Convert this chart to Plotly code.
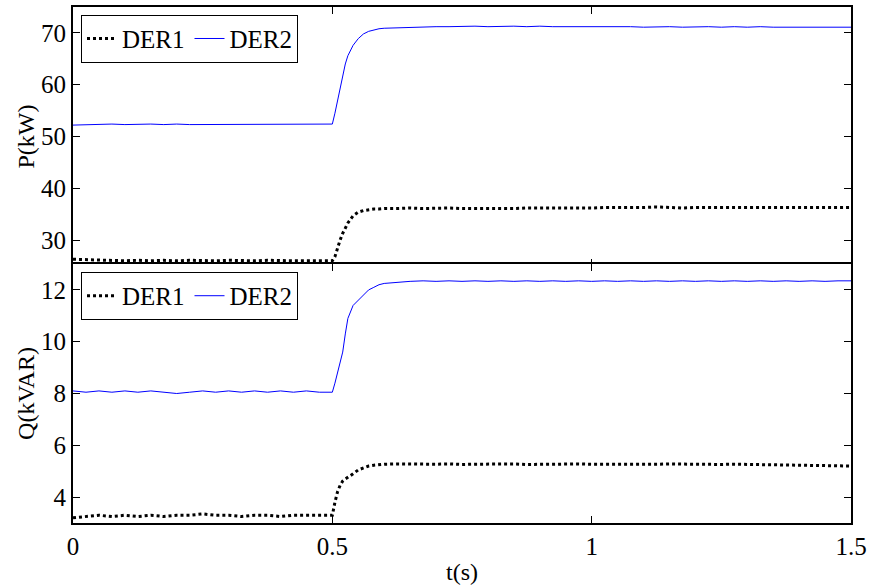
import plotly.graph_objects as go

# time samples (s)
t_pre = [0, 0.025, 0.05, 0.075, 0.1, 0.125, 0.15, 0.175, 0.2, 0.225, 0.25,
         0.275, 0.3, 0.325, 0.35, 0.375, 0.4, 0.425, 0.45, 0.475, 0.5]
t_step = [0.505, 0.51, 0.515, 0.52, 0.525, 0.53, 0.54, 0.55, 0.56, 0.57, 0.58, 0.59, 0.6]
t_post = [0.625, 0.65, 0.675, 0.7, 0.725, 0.75, 0.775, 0.8, 0.825, 0.85, 0.875, 0.9,
          0.925, 0.95, 0.975, 1.0, 1.025, 1.05, 1.075, 1.1, 1.125, 1.15, 1.175, 1.2,
          1.225, 1.25, 1.275, 1.3, 1.325, 1.35, 1.375, 1.4, 1.425, 1.45, 1.475, 1.5]
t = t_pre + t_step + t_post

# Active power P (kW)
P_DER1 = ([26.3, 26.2, 26.1, 26.1, 26.0, 26.1, 26.0, 26.1, 26.0, 26.1, 26.0,
           26.0, 26.1, 26.0, 26.0, 26.1, 26.0, 26.0, 26.0, 26.0, 26.0]
          + [26.8, 28.5, 30.0, 31.3, 32.4, 33.3, 34.7, 35.4, 35.7, 35.9, 36.0, 36.0, 36.1]
          + [36.1, 36.2, 36.1, 36.2, 36.2, 36.1, 36.1, 36.0, 36.1, 36.1, 36.2, 36.2,
             36.1, 36.1, 36.2, 36.2, 36.3, 36.3, 36.2, 36.3, 36.4, 36.3, 36.2, 36.3,
             36.3, 36.2, 36.3, 36.3, 36.2, 36.2, 36.3, 36.3, 36.2, 36.3, 36.2, 36.3])
P_DER2 = ([52.2, 52.3, 52.3, 52.4, 52.3, 52.4, 52.4, 52.3, 52.4, 52.3, 52.3,
           52.4, 52.4, 52.3, 52.4, 52.4, 52.3, 52.4, 52.4, 52.4, 52.4]
          + [54.5, 57.0, 59.5, 62.0, 64.0, 65.6, 67.6, 68.9, 69.8, 70.3, 70.6, 70.8, 70.9]
          + [71.0, 71.1, 71.2, 71.2, 71.2, 71.3, 71.3, 71.2, 71.3, 71.3, 71.2, 71.3,
             71.2, 71.2, 71.2, 71.3, 71.2, 71.2, 71.2, 71.1, 71.2, 71.2, 71.1, 71.2,
             71.2, 71.1, 71.2, 71.1, 71.2, 71.1, 71.1, 71.2, 71.1, 71.1, 71.1, 71.1])

# Reactive power Q (kVAR)
Q_DER1 = ([3.2, 3.25, 3.3, 3.25, 3.3, 3.25, 3.3, 3.25, 3.3, 3.3, 3.35,
           3.3, 3.3, 3.25, 3.3, 3.3, 3.25, 3.3, 3.3, 3.3, 3.3]
          + [3.8, 4.2, 4.45, 4.62, 4.7, 4.76, 4.9, 5.05, 5.14, 5.2, 5.23, 5.25, 5.27]
          + [5.28, 5.27, 5.28, 5.27, 5.28, 5.26, 5.27, 5.28, 5.27, 5.28, 5.26, 5.27,
             5.28, 5.27, 5.28, 5.27, 5.28, 5.27, 5.27, 5.26, 5.27, 5.28, 5.27, 5.26,
             5.27, 5.26, 5.27, 5.26, 5.25, 5.26, 5.25, 5.24, 5.23, 5.22, 5.2, 5.2])
Q_DER2 = ([8.1, 8.05, 8.1, 8.05, 8.1, 8.05, 8.1, 8.05, 8.0, 8.05, 8.1,
           8.05, 8.1, 8.05, 8.1, 8.05, 8.1, 8.05, 8.1, 8.05, 8.05]
          + [8.4, 8.8, 9.1, 9.6, 10.3, 10.9, 11.4, 11.6, 11.8, 12.0, 12.1, 12.2, 12.25]
          + [12.3, 12.33, 12.35, 12.33, 12.35, 12.33, 12.35, 12.33, 12.35, 12.33, 12.35, 12.33,
             12.35, 12.33, 12.35, 12.33, 12.35, 12.33, 12.35, 12.33, 12.35, 12.33, 12.35, 12.33,
             12.35, 12.33, 12.35, 12.33, 12.35, 12.33, 12.35, 12.33, 12.35, 12.33, 12.35, 12.35])

x_ticks = [0, 0.5, 1, 1.5]
x_tick_text = ["0", "0.5", "1", "1.5"]
P_ticks = [30, 40, 50, 60, 70]
Q_ticks = [4, 6, 8, 10, 12]

FONT = "Liberation Serif"
PLOT_H = 586 - 5 - 63
OV = 1.0 / PLOT_H  # small overlap so the shared border is a single line

fig = go.Figure()
fig.add_trace(go.Scatter(x=t, y=P_DER1, mode="lines", name="DER1",
                         line=dict(color="black", width=3, dash="3px,3px"),
                         xaxis="x", yaxis="y", legend="legend"))
fig.add_trace(go.Scatter(x=t, y=P_DER2, mode="lines", name="DER2",
                         line=dict(color="#0000ff", width=1),
                         xaxis="x", yaxis="y", legend="legend"))
fig.add_trace(go.Scatter(x=t, y=Q_DER1, mode="lines", name="DER1",
                         line=dict(color="black", width=3, dash="3px,3px"),
                         xaxis="x2", yaxis="y2", legend="legend2"))
fig.add_trace(go.Scatter(x=t, y=Q_DER2, mode="lines", name="DER2",
                         line=dict(color="#0000ff", width=1),
                         xaxis="x2", yaxis="y2", legend="legend2"))

axis_common = dict(showline=True, linecolor="black", linewidth=2, mirror="ticks",
                   ticks="inside", ticklen=7, tickwidth=1, tickcolor="black",
                   showgrid=False, zeroline=False,
                   tickfont=dict(family=FONT, size=25, color="black"))
title_font = dict(family=FONT, size=24, color="black")
legend_common = dict(orientation="h", xanchor="left", yanchor="top",
                     bgcolor="white", bordercolor="black", borderwidth=1,
                     font=dict(family=FONT, size=25, color="black"),
                     itemwidth=30, tracegroupgap=0, valign="middle")

fig.update_layout(
    width=872, height=586,
    margin=dict(l=73, r=21, t=5, b=63),
    paper_bgcolor="white", plot_bgcolor="white",
    showlegend=True,
    xaxis=dict(domain=[0, 1], range=[0, 1.5], tickvals=x_ticks, ticktext=x_tick_text,
               showticklabels=False, anchor="y", **axis_common),
    yaxis=dict(domain=[0.5 - OV, 1], range=[25, 75], tickvals=P_ticks, anchor="x",
               title=dict(text="P(kW)", font=title_font, standoff=0), **axis_common),
    xaxis2=dict(domain=[0, 1], range=[0, 1.5], tickvals=x_ticks, ticktext=x_tick_text,
                anchor="y2", matches="x",
                title=dict(text="t(s)", font=title_font, standoff=4), **axis_common),
    yaxis2=dict(domain=[0, 0.5 + OV], range=[3, 13], tickvals=Q_ticks, anchor="x2",
                title=dict(text="Q(kVAR)", font=title_font, standoff=0), **axis_common),
    legend=dict(x=0.0103, y=0.985, **legend_common),
    legend2=dict(x=0.0103, y=0.4865, **legend_common),
)

fig.write_html("out.html")
